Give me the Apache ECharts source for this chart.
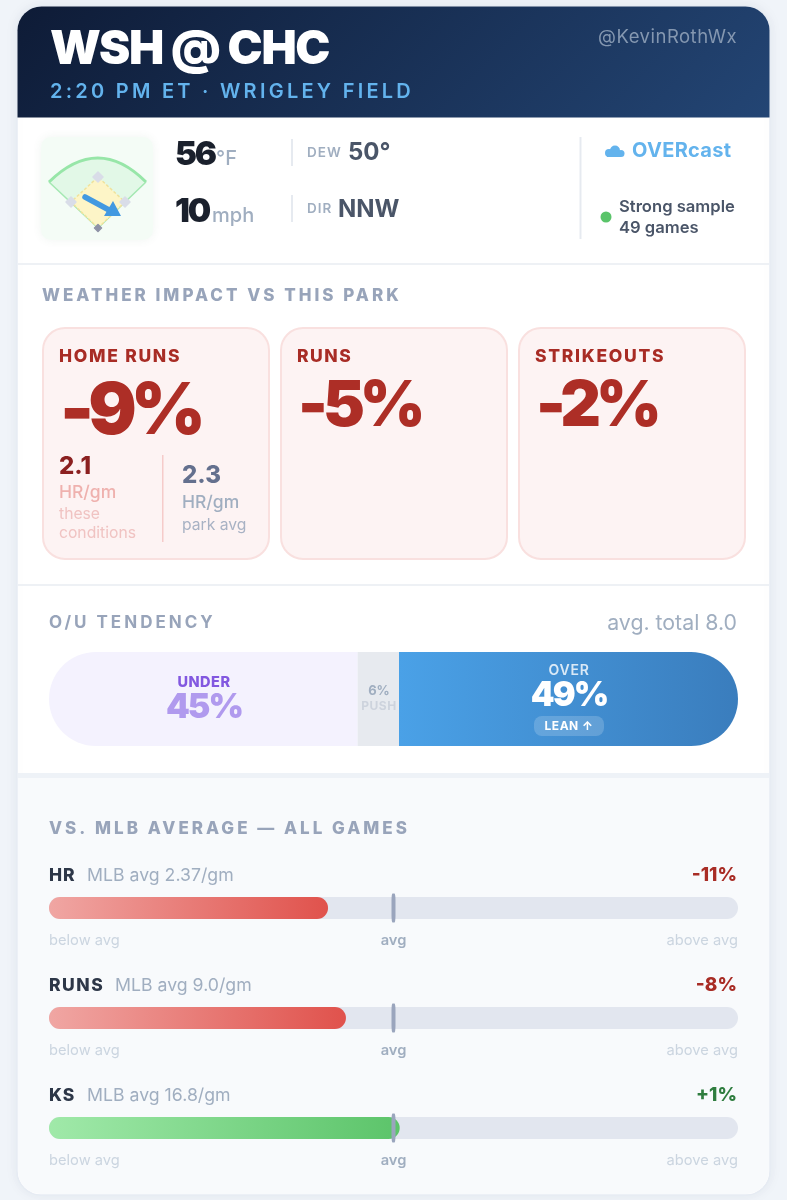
<!DOCTYPE html>
<html><head><meta charset="utf-8">
<style>html,body{margin:0;padding:0;background:#f0f4f9}#c{width:787px;height:1200px}</style>
<script src="https://cdn.jsdelivr.net/npm/echarts@6/dist/echarts.min.js"></script>
</head><body><div id="c"></div>
<script>
// ---- data ----
const matchup = 'WSH @ CHC';
const handle = '@KevinRothWx';
const subtitle = '2:20 PM ET · WRIGLEY FIELD';
const tempF = '56', windMph = '10', dew = '50°', windDir = 'NNW', sky = 'OVERcast';
const sampleText = ['Strong sample', '49 games'];
const impactLabels = ['HOME RUNS', 'RUNS', 'STRIKEOUTS'];
const impactValues = ['-9%', '-5%', '-2%'];
const hrThese = '2.1', hrPark = '2.3';
const ouLabels = ['UNDER', 'PUSH', 'OVER'];
const ouValues = [45, 6, 49];
const ouShares = [44.8, 6, 49.2];
const ouAvgTotal = 'avg. total 8.0';
const metricNames = ['HR', 'RUNS', 'KS'];
const metricAvgs = ['MLB avg 2.37/gm', 'MLB avg 9.0/gm', 'MLB avg 16.8/gm'];
const metricDeltas = ['-11%', '-8%', '+1%'];
const metricFill = [40.5, 43.1, 50.9];
const avgTick = 50;
const tickValues = [0, 50, 100];
const tickLabels = ['below avg', 'avg', 'above avg'];

// ---- letter spacing (canvas feature ECharts does not expose) ----
const tracking = {
  [matchup]: -1.3, [handle]: 0.5, [subtitle]: 3.25, [tempF]: -2.2, [windMph]: -2.2,
  'DEW': 1, 'DIR': 1, 'WEATHER IMPACT VS THIS PARK': 3,
  'HOME RUNS': 1.7, 'RUNS': 1.5, 'STRIKEOUTS': 1.7, 'HR': 1, 'KS': 1,
  'O/U TENDENCY': 3, 'VS. MLB AVERAGE — ALL GAMES': 3,
  'UNDER': 0.5, 'OVER': 0.8, 'PUSH': 0.5, 'LEAN ↑': 0.5,
  '-9%': -6, '-5%': -5, '-2%': -5, '45%': -2, '49%': -2, [sky]: 0.35
};
const nativeFill = CanvasRenderingContext2D.prototype.fillText;
CanvasRenderingContext2D.prototype.fillText = function (t, x, y, m) {
  this.letterSpacing = (tracking[t] || 0) + 'px';
  m === undefined ? nativeFill.call(this, t, x, y) : nativeFill.call(this, t, x, y, m);
  this.letterSpacing = '0px';
};

const FONT = 'Inter, "Noto Sans", sans-serif';
const chart = echarts.init(document.getElementById('c'), null, { renderer: 'canvas', width: 787, height: 1200 });
const G = [];
function T(text, x, base, size, weight, color, align) {
  G.push({ type: 'text', z: 20, x: x, y: base - 0.31 * size, silent: true,
    style: { text: text, fill: color, font: weight + ' ' + size + 'px ' + FONT, textAlign: align || 'left', textVerticalAlign: 'middle', verticalAlign: 'middle' } });
}
function R(x, y, w, h, r, fill, extra) {
  G.push(Object.assign({ type: 'rect', z: 1, silent: true, shape: { x: x, y: y, width: w, height: h, r: r },
    style: Object.assign({ fill: fill }, extra || {}) }));
}
function Poly(pts, fill, stroke, lw, extra) {
  G.push({ type: 'polygon', z: 3, silent: true, shape: { points: pts }, style: Object.assign({ fill: fill, stroke: stroke, lineWidth: lw || 0 }, extra || {}) });
}
function Dia(cx, cy, r, fill) { Poly([[cx, cy - r], [cx + r, cy], [cx, cy + r], [cx - r, cy]], fill, fill, 1.5, { lineJoin: 'round' }); }
const grad = (a, b) => new echarts.graphic.LinearGradient(0, 0, 1, 0, [{ offset: 0, color: a }, { offset: 1, color: b }]);
const HEAD = '#98a4ba';

// page card
R(17, 6, 753, 1189, 24, '#ffffff', { stroke: '#e6ebf3', lineWidth: 1.5, shadowBlur: 14, shadowColor: 'rgba(30,50,90,0.06)' });
// header
R(17.5, 6.5, 752, 111, [24, 24, 0, 0], new echarts.graphic.LinearGradient(177, -155, 609, 277,
  [{ offset: 0, color: '#0e1b36' }, { offset: 1, color: '#234574' }], true));
// bottom panel
R(18, 778, 751, 416, [0, 0, 23, 23], '#f8fafc');
R(18, 773, 751, 5, 0, '#eef2f7');
R(18, 263, 751, 2, 0, '#eef1f5');
R(18, 584, 751, 2, 0, '#eef1f5');

T(matchup, 50, 64, 47, 900, '#ffffff');
T(handle, 737, 43, 18.5, 400, '#8497b0', 'right');
T(subtitle, 50, 98, 20, 600, '#63b3ed');

// field tile
R(41, 137, 112, 103, 10, '#f4fcf6', { shadowBlur: 10, shadowColor: 'rgba(60,120,80,0.08)' });
Poly([[49, 182], [98, 228], [146, 182]], '#e2f8e7');
G[G.length - 1].z = 2;
G.push({ type: 'bezierCurve', z: 2, silent: true, shape: { x1: 49, y1: 182, x2: 146, y2: 182, cpx1: 98, cpy1: 134 }, style: { fill: '#e2f8e7', stroke: '#97e6a8', lineWidth: 3 } });
G.push({ type: 'polyline', z: 3, silent: true, shape: { points: [[49, 182], [98, 228], [146, 182]] }, style: { fill: 'none', stroke: '#a4e8b2', lineWidth: 1.5 } });
Poly([[98, 228], [125, 202], [98, 177], [71, 202]], '#fdf5c7', '#efe29c', 1.5, { lineDash: [3, 2] });
Dia(98, 177, 5, '#d9dde8'); Dia(125, 202, 5, '#d9dde8'); Dia(71, 202, 5, '#d9dde8'); Dia(98, 228, 3.5, '#8e92a6');
G.push({ type: 'line', z: 4, silent: true, shape: { x1: 85, y1: 197, x2: 109, y2: 210 }, style: { stroke: '#4299e1', lineWidth: 5.5, lineCap: 'round' } });
Poly([[113, 201], [121, 216], [104, 216]], '#4299e1');

T(tempF, 175, 165, 33, 900, '#1a202c');
T('°F', 216, 165, 20, 500, '#a0aec0');
T(windMph, 175, 222, 33, 900, '#1a202c');
T('mph', 212, 222, 20, 500, '#a0aec0');
R(291, 139, 2, 27, 0, '#e6eaf0'); R(291, 195, 2, 27, 0, '#e6eaf0');
T('DEW', 307, 157, 13.5, 600, '#a0aec0');
T(dew, 348, 160, 24, 700, '#4a5568');
T('DIR', 307, 213, 13.5, 600, '#a0aec0');
T(windDir, 338, 217, 24, 700, '#4a5568');
R(579.5, 137, 2, 102, 0, '#e6eaf0');
// cloud
['#63b3ed'].forEach(c => {
  G.push({ type: 'circle', z: 3, silent: true, shape: { cx: 615, cy: 150.5, r: 5 }, style: { fill: c } });
  G.push({ type: 'circle', z: 3, silent: true, shape: { cx: 609, cy: 153, r: 4 }, style: { fill: c } });
  G.push({ type: 'circle', z: 3, silent: true, shape: { cx: 621, cy: 153.5, r: 3.5 }, style: { fill: c } });
  R(607, 152, 14, 5, 0, c); G[G.length - 1].z = 3;
});
T(sky, 632, 157, 20, 700, '#63b3ed');
G.push({ type: 'circle', z: 3, silent: true, shape: { cx: 606, cy: 217, r: 5.5 }, style: { fill: '#5ac46a' } });
T(sampleText[0], 619, 212, 16.6, 600, '#4a5568');
T(sampleText[1], 619, 233, 16.6, 600, '#4a5568');

// weather impact
T('WEATHER IMPACT VS THIS PARK', 42, 301, 17, 800, HEAD);
[42, 280, 518].forEach((x, i) => {
  R(x + 1, 328, 226, 231, 22, '#fdf3f3', { stroke: '#f9e0df', lineWidth: 2 });
  T(impactLabels[i], x + 17, 362.5, 17.5, 800, '#a82c25');
  if (i === 0) T(impactValues[i], x + 18, 435, 72, 900, '#ad2e26');
  else T(impactValues[i], x + 18, 427, 63, 900, '#ad2e26');
});
T(hrThese, 59, 474, 24, 800, '#8b2020');
T('HR/gm', 59, 498, 17.5, 500, '#efb1ae');
T('these', 59, 519, 15.7, 400, '#f0c3c2');
T('conditions', 59, 538.5, 15.7, 400, '#f0c3c2');
R(162, 455, 1.5, 87, 0, '#f6cbca');
T(hrPark, 182, 483, 24, 800, '#64708e');
T('HR/gm', 182, 508, 17.5, 500, '#a0aec0');
T('park avg', 182, 530, 15.7, 400, '#a8b2c4');

// O/U
T('O/U TENDENCY', 49, 628, 17, 700, HEAD);
T(ouAvgTotal, 737, 630, 21.3, 400, '#a0aec0', 'right');
T(ouLabels[0], 204, 687, 14.5, 800, '#8258e0', 'center');
T(ouValues[0] + '%', 204, 718, 34, 900, '#b09aee', 'center');
T(ouValues[1] + '%', 379, 695, 13, 700, '#a0aec0', 'center');
T(ouLabels[1], 379, 710, 12, 700, '#cdd3dd', 'center');
T(ouLabels[2], 569, 675, 14, 600, 'rgba(255,255,255,0.8)', 'center');
T(ouValues[2] + '%', 569, 706, 34, 900, '#ffffff', 'center');
R(534, 716, 70, 20, 8, 'rgba(255,255,255,0.18)'); G[G.length - 1].z = 10;
T('LEAN ↑', 569, 730, 12, 700, '#ffffff', 'center');

// vs MLB
T('VS. MLB AVERAGE — ALL GAMES', 49, 834, 17, 800, HEAD);
const rowTop = [897, 1007, 1117];
const nameEnd = [87, 115, 87];
const fills = [['#f0a6a3', '#e0524c'], ['#f0a6a3', '#e0524c'], ['#a0e9a9', '#5cc46a']];
const deltaCol = ['#a82c25', '#a82c25', '#2f7d3f'];
metricNames.forEach((n, i) => {
  const b = rowTop[i] - 16;
  T(n, 49, b, 17.5, 800, '#2d3748');
  T(metricAvgs[i], nameEnd[i], b, 17.7, 400, '#a0aec0');
  T(metricDeltas[i], 737, b, 19, 800, deltaCol[i], 'right');
});

// ---- axes and series ----
const grids = [{ left: 49, width: 689, top: 652, height: 94 }];
const xAxes = [{ gridIndex: 0, type: 'value', min: 0, max: 100, show: false }];
const yAxes = [{ gridIndex: 0, type: 'category', data: ['O/U'], show: false }];
const ouColors = ['#f4f2fe', '#e7eaef', grad('#4aa1e7', '#3a7dbd')];
const ouRadius = [[47, 0, 0, 47], 0, [0, 47, 47, 0]];
const series = ouShares.map((v, i) => ({
  type: 'bar', xAxisIndex: 0, yAxisIndex: 0, stack: 'ou', name: ouLabels[i], barWidth: 94, silent: true,
  data: [v], itemStyle: { color: ouColors[i], borderRadius: ouRadius[i] }
}));
metricNames.forEach((n, i) => {
  const k = i + 1;
  grids.push({ left: 49, width: 689, top: rowTop[i], height: 22 });
  xAxes.push({ gridIndex: k, type: 'value', min: 0, max: 100, z: 5, splitLine: { show: false }, axisLine: { show: false },
    axisTick: { show: false },
    axisLabel: { show: true, customValues: tickValues, margin: 14, alignMinLabel: 'left', alignMaxLabel: 'right',
      fontFamily: FONT, fontSize: 14.7, color: '#cbd5e0',
      formatter: v => tickValues.indexOf(v) === 1 ? '{m|' + tickLabels[1] + '}' : tickLabels[tickValues.indexOf(v)],
      rich: { m: { fontFamily: FONT, fontSize: 14.7, fontWeight: 600, color: '#a0aec0' } } } });
  yAxes.push({ gridIndex: k, type: 'category', data: [n], show: false });
  series.push({ type: 'bar', xAxisIndex: k, yAxisIndex: k, barWidth: 22, silent: true, name: n,
    showBackground: true, backgroundStyle: { color: '#e2e6ef', borderRadius: 11 },
    data: [metricFill[i]], itemStyle: { color: grad(fills[i][0], fills[i][1]), borderRadius: 11 } });
  series.push({ type: 'scatter', xAxisIndex: k, yAxisIndex: k, silent: true, clip: false, z: 5, name: n + ' avg',
    symbol: 'roundRect', symbolSize: [4, 29], data: [[avgTick, n]], itemStyle: { color: '#9aa5bd', opacity: 1 } });
});

chart.setOption({
  animation: false, backgroundColor: '#f0f4f9', tooltip: { show: false },
  grid: grids, xAxis: xAxes, yAxis: yAxes, series: series,
  graphic: { elements: G }
});
</script></body></html>
